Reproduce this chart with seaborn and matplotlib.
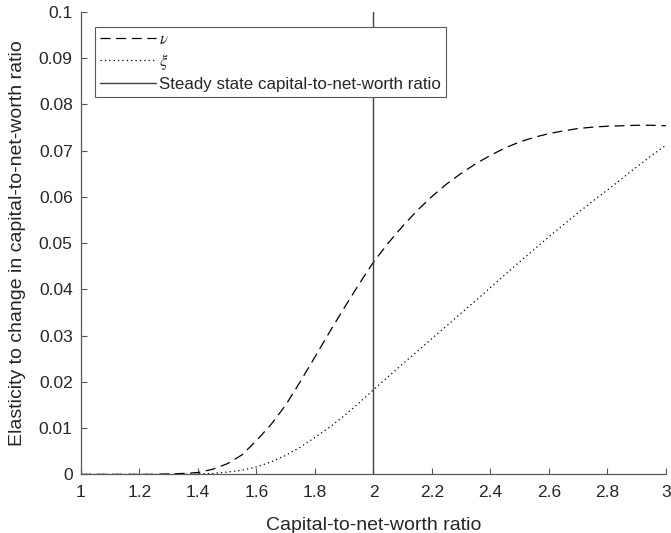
import seaborn as sns
import matplotlib.pyplot as plt
import pandas as pd

# values
ratio = [1.0, 1.05, 1.1, 1.15, 1.2, 1.25, 1.3, 1.35, 1.4, 1.45, 1.5,
         1.55, 1.6, 1.65, 1.7, 1.75, 1.8, 1.85, 1.9, 1.95, 2.0,
         2.05, 2.1, 2.15, 2.2, 2.25, 2.3, 2.35, 2.4, 2.45, 2.5,
         2.55, 2.6, 2.65, 2.7, 2.75, 2.8, 2.85, 2.9, 2.95, 3.0]
nu = [0.0, 0.0, 0.0, 0.0, 0.0, 0.0, 0.0001, 0.0002, 0.0004, 0.0011, 0.0023,
      0.0042, 0.0073, 0.0108, 0.0150, 0.0201, 0.0254, 0.0308, 0.0360, 0.0411, 0.0459,
      0.0500, 0.0537, 0.0571, 0.0601, 0.0628, 0.0651, 0.0672, 0.0690, 0.0706, 0.0719,
      0.0729, 0.0737, 0.0743, 0.0748, 0.0751, 0.0753, 0.0754, 0.0755, 0.0755, 0.0754]
xi = [0.0, 0.0, 0.0, 0.0, 0.0, 0.0, 0.0, 0.0, 0.0001, 0.0002, 0.0005,
      0.0009, 0.0016, 0.0027, 0.0041, 0.0059, 0.0080, 0.0102, 0.0127, 0.0154, 0.0183,
      0.0211, 0.0239, 0.0266, 0.0294, 0.0321, 0.0349, 0.0376, 0.0404, 0.0432, 0.0460,
      0.0487, 0.0514, 0.0540, 0.0566, 0.0591, 0.0615, 0.0640, 0.0665, 0.0689, 0.0712]
steady_state = 2.0

xticks = [1, 1.2, 1.4, 1.6, 1.8, 2, 2.2, 2.4, 2.6, 2.8, 3]
xtick_labels = ['1', '1.2', '1.4', '1.6', '1.8', '2', '2.2', '2.4', '2.6', '2.8', '3']
yticks = [0, 0.01, 0.02, 0.03, 0.04, 0.05, 0.06, 0.07, 0.08, 0.09, 0.1]
ytick_labels = ['0', '0.01', '0.02', '0.03', '0.04', '0.05', '0.06', '0.07', '0.08', '0.09', '0.1']

df = pd.DataFrame({'ratio': ratio, 'nu': nu, 'xi': xi})

sns.set_style('ticks')
plt.rcParams['font.family'] = ['Liberation Sans', 'DejaVu Sans']
plt.rcParams['mathtext.fontset'] = 'stix'

fig = plt.figure(figsize=(6.71, 5.33), dpi=100)
ax = fig.add_axes([0.1207, 0.110, 0.8718, 0.8675])

sns.lineplot(x='ratio', y='nu', data=df, ax=ax, color='black', lw=0.9, label=r'$\nu$')
ax.lines[-1].set_dashes((8, 4.5))
sns.lineplot(x='ratio', y='xi', data=df, ax=ax, color='black', lw=0.9, label=r'$\xi$')
ax.lines[-1].set_dashes((1, 2.5))
ax.axvline(steady_state, color='0.25', lw=1,
           label='Steady state capital-to-net-worth ratio')

ax.set_xlim(1, 3)
ax.set_ylim(0, 0.1)
ax.set_xticks(xticks)
ax.set_xticklabels(xtick_labels)
ax.set_yticks(yticks)
ax.set_yticklabels(ytick_labels)
ax.tick_params(direction='in', labelsize=12.5, length=4.5, width=0.8,
               color='0.35', labelcolor='0.15', pad=6)
ax.tick_params(axis='x', pad=8)

for s in ['top', 'right']:
    ax.spines[s].set_visible(False)
for s in ['left', 'bottom']:
    ax.spines[s].set_color('0.35')
    ax.spines[s].set_linewidth(0.9)

ax.set_xlabel('Capital-to-net-worth ratio', fontsize=14, color='0.15', labelpad=12)
ax.set_ylabel('Elasticity to change in capital-to-net-worth ratio', fontsize=14,
              color='0.15', labelpad=9)

leg = ax.legend(loc='upper left', bbox_to_anchor=(0.024, 0.9675), fontsize=12.2,
                fancybox=False, framealpha=1, edgecolor='0.35', handlelength=3.3,
                handletextpad=0.2, borderpad=0.3, labelspacing=0.3, borderaxespad=0)
leg.get_frame().set_linewidth(0.8)

plt.savefig('out.png', dpi=100)
